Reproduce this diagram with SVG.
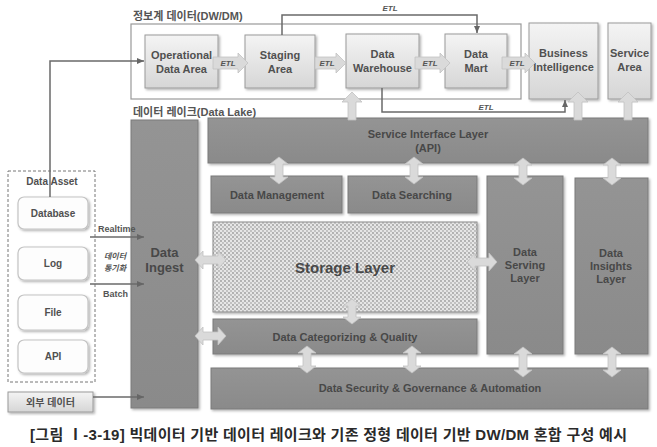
<svg xmlns="http://www.w3.org/2000/svg" width="657" height="447" viewBox="0 0 657 447">
<defs>
<linearGradient id="lg" x1="0" y1="0" x2="0" y2="1"><stop offset="0" stop-color="#f4f4f4"/><stop offset="1" stop-color="#d6d6d6"/></linearGradient>
<linearGradient id="dg" x1="0" y1="0" x2="0" y2="1"><stop offset="0" stop-color="#949494"/><stop offset="1" stop-color="#8a8a8a"/></linearGradient>
<pattern id="hatch" width="4" height="4" patternUnits="userSpaceOnUse"><rect width="4" height="4" fill="#e6e6e6"/><circle cx="1" cy="1" r="0.9" fill="#9a9a9a"/><circle cx="3" cy="3" r="0.9" fill="#b0b0b0"/></pattern>
<marker id="ah" markerWidth="8" markerHeight="8" refX="7" refY="4" orient="auto" markerUnits="userSpaceOnUse"><path d="M0,1 L7,4 L0,7 Z" fill="#666"/></marker>
<filter id="sh" x="-10%" y="-10%" width="130%" height="130%"><feDropShadow dx="1.5" dy="1.5" stdDeviation="1" flood-color="#000" flood-opacity="0.3"/></filter>
</defs>
<style>
text{font-family:"Liberation Sans","Noto Sans CJK KR",sans-serif;font-weight:bold;}
.lt{fill:url(#lg);stroke:#9a9a9a;stroke-width:1;filter:url(#sh);}
.dk{fill:url(#dg);stroke:#7a7a7a;stroke-width:1;filter:url(#sh);}
.wt{fill:#fdfdfd;stroke:#c4c4c4;stroke-width:1.2;filter:url(#sh);}
.tl{font-size:11px;fill:#505050;text-anchor:middle;}
.td{font-size:11px;fill:#484848;text-anchor:middle;}
.ba{fill:#dadada;stroke:#c2c2c2;stroke-width:0.8;}
.ln{fill:none;stroke:#6a6a6a;stroke-width:1.5;}
.etl{font-size:8px;font-style:italic;fill:#555;text-anchor:middle;}
.sec{font-size:11px;fill:#555;}
</style>

<!-- section labels -->
<text class="sec" x="133" y="20">정보계 데이터(DW/DM)</text>
<rect x="131" y="24" width="390" height="75" fill="none" stroke="#999" stroke-width="1.2"/>
<text class="sec" x="133" y="116">데이터 레이크(Data Lake)</text>

<!-- DW/DM nodes -->
<g id="oda"><rect class="lt" x="145" y="35" width="73" height="53"/><text class="tl" x="181.5" y="59">Operational</text><text class="tl" x="181.5" y="73">Data Area</text></g>
<g id="staging"><rect class="lt" x="245" y="35" width="70" height="53"/><text class="tl" x="280" y="59">Staging</text><text class="tl" x="280" y="73">Area</text></g>
<g id="dw"><rect class="lt" x="346" y="34" width="73" height="54"/><text class="tl" x="382.5" y="58">Data</text><text class="tl" x="382.5" y="72">Warehouse</text></g>
<g id="dm"><rect class="lt" x="445" y="34" width="62" height="54"/><text class="tl" x="476" y="58">Data</text><text class="tl" x="476" y="72">Mart</text></g>
<g id="bi"><rect class="lt" x="529" y="23" width="69" height="76"/><text class="tl" x="563.5" y="57">Business</text><text class="tl" x="563.5" y="71">Intelligence</text></g>
<g id="svcarea"><rect class="lt" x="608" y="23" width="43" height="76"/><text class="tl" x="629.5" y="57">Service</text><text class="tl" x="629.5" y="71">Area</text></g>

<!-- Data Lake nodes -->
<g id="ingest"><rect class="dk" x="131" y="120" width="67" height="288"/><text class="td" x="164.5" y="257" style="font-size:13px">Data</text><text class="td" x="164.5" y="272" style="font-size:13px">Ingest</text></g>
<g id="sil"><rect class="dk" x="208" y="118" width="440" height="45"/><text class="td" x="428" y="138">Service Interface Layer</text><text class="td" x="428" y="152">(API)</text></g>
<g id="dmgmt"><rect class="dk" x="211" y="176" width="131" height="37"/><text class="td" x="277" y="199">Data Management</text></g>
<g id="dsearch"><rect class="dk" x="348" y="176" width="129" height="37"/><text class="td" x="412" y="199">Data Searching</text></g>
<g id="serving"><rect class="dk" x="487" y="176" width="76" height="178"/><text class="td" x="525" y="256">Data</text><text class="td" x="525" y="269">Serving</text><text class="td" x="525" y="282">Layer</text></g>
<g id="insights"><rect class="dk" x="575" y="178" width="73" height="176"/><text class="td" x="611" y="257">Data</text><text class="td" x="611" y="270">Insights</text><text class="td" x="611" y="283">Layer</text></g>
<g id="storage"><rect x="213" y="222" width="264" height="90" fill="url(#hatch)" stroke="#8a8a8a" stroke-width="1" filter="url(#sh)"/><text class="td" x="345" y="273" style="font-size:15px">Storage Layer</text></g>
<g id="catq"><rect class="dk" x="213" y="319" width="264" height="35"/><text class="td" x="345" y="341">Data Categorizing  &amp; Quality</text></g>
<g id="secgov"><rect class="dk" x="211" y="368" width="437" height="41"/><text class="td" x="430" y="392">Data Security &amp; Governance &amp; Automation</text></g>

<!-- Data Asset -->
<g id="dataasset"><rect x="8" y="171" width="87" height="211" fill="none" stroke="#777" stroke-width="1" stroke-dasharray="3,2"/><text class="tl" x="52" y="185" style="font-size:10px">Data Asset</text></g>
<g id="database"><rect class="wt" x="18" y="197" width="70" height="32" rx="6"/><text class="tl" x="53" y="217" style="font-size:10px">Database</text></g>
<g id="log"><rect class="wt" x="18" y="247" width="70" height="33" rx="6"/><text class="tl" x="53" y="267" style="font-size:10px">Log</text></g>
<g id="file"><rect class="wt" x="18" y="295" width="70" height="35" rx="6"/><text class="tl" x="53" y="316" style="font-size:10px">File</text></g>
<g id="api"><rect class="wt" x="18" y="340" width="70" height="33" rx="6"/><text class="tl" x="53" y="360" style="font-size:10px">API</text></g>
<g id="external"><rect class="lt" x="8" y="392" width="85" height="20"/><text class="tl" x="50.5" y="406" style="font-size:10px">외부 데이터</text></g>

<!-- connectors -->
<g id="connectors">
<path class="ln" d="M282,35 V15 H477 V33" marker-end="url(#ah)"/>
<text class="etl" x="390" y="11">ETL</text>
<path class="ln" d="M382,88 V112 H565 V100" marker-end="url(#ah)"/>
<text class="etl" x="486" y="110">ETL</text>
<path class="ln" d="M50,197 V61 H144" marker-end="url(#ah)"/>
<path class="ln" d="M90,237 H144" marker-end="url(#ah)"/>
<path class="ln" d="M90,284 H144" marker-end="url(#ah)"/>
<path class="ln" d="M93,397 H144" marker-end="url(#ah)"/>
<text x="98" y="232" style="font-size:9px;fill:#555;">Realtime</text>
<text x="115" y="259" style="font-size:8px;fill:#555;font-style:italic;text-anchor:middle;">데이터</text>
<text x="115" y="271" style="font-size:8px;fill:#555;font-style:italic;text-anchor:middle;">동기화</text>
<text x="103" y="297" style="font-size:9px;fill:#555;">Batch</text>
<!-- ETL block arrows -->
<path class="ba" d="M213,57 H238 V53 L248,63 L238,73 V69 H213 Z"/><text class="etl" x="228" y="66">ETL</text>
<path class="ba" d="M315,57 H336 V53 L346,63 L336,73 V69 H315 Z"/><text class="etl" x="327" y="66">ETL</text>
<path class="ba" d="M415,57 H440 V53 L450,63 L440,73 V69 H415 Z"/><text class="etl" x="430" y="66">ETL</text>
<path class="ba" d="M502,57 H525 V53 L535,63 L525,73 V69 H502 Z"/><text class="etl" x="517" y="66">ETL</text>
<!-- up arrows -->
<path class="ba" d="M352,92 L362,102 L356,102 L356,120 L348,120 L348,102 L342,102 Z"/>
<path class="ba" d="M578,92 L588,102 L582,102 L582,120 L574,120 L574,102 L568,102 Z"/>
<path class="ba" d="M628,92 L638,102 L632,102 L632,120 L624,120 L624,102 L618,102 Z"/>
<!-- vertical double arrows -->
<path class="ba" d="M279,157 L288,164 L283,164 L283,177 L288,177 L279,184 L270,177 L275,177 L275,164 L270,164 Z"/>
<path class="ba" d="M414,157 L423,164 L418,164 L418,177 L423,177 L414,184 L405,177 L410,177 L410,164 L405,164 Z"/>
<path class="ba" d="M523,158 L532,165 L527,165 L527,178 L532,178 L523,185 L514,178 L519,178 L519,165 L514,165 Z"/>
<path class="ba" d="M612,158 L621,165 L616,165 L616,178 L621,178 L612,185 L603,178 L608,178 L608,165 L603,165 Z"/>
<path class="ba" d="M352,299 L361,306 L356,306 L356,317 L361,317 L352,324 L343,317 L348,317 L348,306 L343,306 Z"/>
<path class="ba" d="M307,346 L316,353 L311,353 L311,366 L316,366 L307,373 L298,366 L303,366 L303,353 L298,353 Z"/>
<path class="ba" d="M412,346 L421,353 L416,353 L416,366 L421,366 L412,373 L403,366 L408,366 L408,353 L403,353 Z"/>
<path class="ba" d="M523,347 L532,354 L527,354 L527,370 L532,370 L523,377 L514,370 L519,370 L519,354 L514,354 Z"/>
<path class="ba" d="M612,347 L621,354 L616,354 L616,370 L621,370 L612,377 L603,370 L608,370 L608,354 L603,354 Z"/>
<!-- horizontal double arrows -->
<path class="ba" d="M195,260 L203,251 L203,256 L218,256 L218,251 L226,260 L218,269 L218,264 L203,264 L203,269 Z"/>
<path class="ba" d="M195,336 L203,327 L203,332 L218,332 L218,327 L226,336 L218,345 L218,340 L203,340 L203,345 Z"/>
<path class="ba" d="M467,262 L475,253 L475,258 L489,258 L489,253 L497,262 L489,271 L489,266 L475,266 L475,271 Z"/>
</g>

<!-- caption -->
<text x="30" y="440" textLength="597" lengthAdjust="spacing" style="font-size:15px;fill:#2a2a2a;font-weight:bold;">[그림 Ⅰ-3-19] 빅데이터 기반 데이터 레이크와 기존 정형 데이터 기반 DW/DM 혼합 구성 예시</text>
</svg>
